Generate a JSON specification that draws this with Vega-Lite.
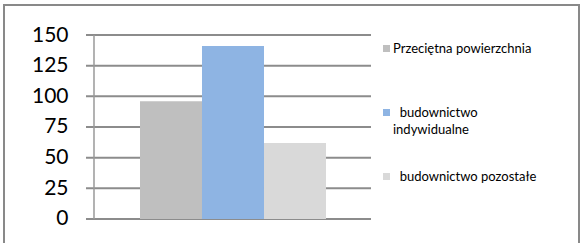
{
  "$schema": "https://vega.github.io/schema/vega-lite/v6.json",
  "width": 575,
  "height": 240,
  "autosize": {"type": "none"},
  "padding": {"left": 4, "top": 5, "right": 3, "bottom": 0},
  "background": "white",
  "config": {"view": {"stroke": "#898989", "strokeWidth": 2}, "font": "Lato", "style": {"guide-label": {"lineHeight": 17}}, "axis": {"labelOverlap": false}, "axisY": {"labelOverlap": false}},
  "title": {"text": "Przeciętna powierzchnia", "anchor": "start", "dx": 107, "offset": 7, "fontSize": 30, "fontWeight": "bold", "font": "Lato", "color": "#000000", "baseline": "alphabetic"},
  "datasets": {
    "bars": [
      {"grupa": "2013", "seria": "Przeciętna powierzchnia", "value": 96},
      {"grupa": "2013", "seria": "budownictwo indywidualne", "value": 141},
      {"grupa": "2013", "seria": "budownictwo pozostałe", "value": 62}
    ],
    "grid": [{"v": 0}, {"v": 25}, {"v": 50}, {"v": 75}, {"v": 100}, {"v": 125}, {"v": 150}],
    "axisline": [{"from": 0, "to": 150}]
  },
  "layer": [
    {
      "layer": [
        {
          "data": {"name": "grid"},
          "mark": {"type": "rule", "color": "#8c8c8c", "strokeWidth": 2},
          "encoding": {
            "y": {"field": "v", "type": "quantitative", "scale": {"domain": [-21.2, 174.46], "nice": false, "zero": false},
              "axis": {"values": [0, 25, 50, 75, 100, 125, 150], "domain": false, "ticks": false, "grid": false, "labelOverlap": false, "labelFontSize": 21, "labelFont": "Lato", "labelColor": "#000000", "offset": -64, "labelPadding": 0, "title": null}},
            "x": {"datum": 0, "type": "quantitative", "scale": {"domain": [-0.2877, 1.7298], "nice": false, "zero": false}, "axis": null},
            "x2": {"datum": 1}
          }
        },
        {
          "data": {"name": "axisline"},
          "mark": {"type": "rule", "color": "#999999", "strokeWidth": 1.5},
          "encoding": {
            "x": {"datum": 0.02807, "type": "quantitative"},
            "y": {"field": "from", "type": "quantitative", "axis": {"values": [0, 25, 50, 75, 100, 125, 150], "labelOverlap": false}},
            "y2": {"field": "to"}
          }
        }
      ]
    },
    {
      "data": {"name": "bars"},
      "mark": {"type": "bar"},
      "encoding": {
        "x": {"field": "grupa", "type": "nominal", "scale": {"paddingInner": 0.0437, "paddingOuter": 1, "align": 0.3496}, "axis": null},
        "xOffset": {"field": "seria", "type": "nominal", "sort": null, "scale": {"paddingInner": 0, "paddingOuter": 0}},
        "y": {"field": "value", "type": "quantitative", "axis": {"values": [0, 25, 50, 75, 100, 125, 150], "labelOverlap": false}},
        "y2": {"datum": 0},
        "color": {"field": "seria", "type": "nominal", "sort": null,
          "scale": {"domain": ["Przeciętna powierzchnia", "budownictwo indywidualne", "budownictwo pozostałe"], "range": ["#bfbfbf", "#8eb4e3", "#d9d9d9"]},
          "legend": {"orient": "none", "legendX": 376, "legendY": 37, "title": null, "gridAlign": "all", "symbolType": "square", "symbolSize": 49, "symbolStrokeWidth": 0, "symbolOpacity": 1, "labelFontSize": 13, "labelFont": "Lato", "labelColor": "#000000", "rowPadding": 33, "padding": 0, "labelOffset": 0, "labelLimit": 300,
            "labelExpr": "datum.label == 'budownictwo indywidualne' ? ['\u200b\u00a0\u00a0budownictwo', 'indywidualne'] : datum.label == 'budownictwo pozostałe' ? '\u200b\u00a0\u00a0budownictwo pozostałe' : datum.label"}
        }
      }
    }
  ],
  "resolve": {"scale": {"x": "independent"}}
}
